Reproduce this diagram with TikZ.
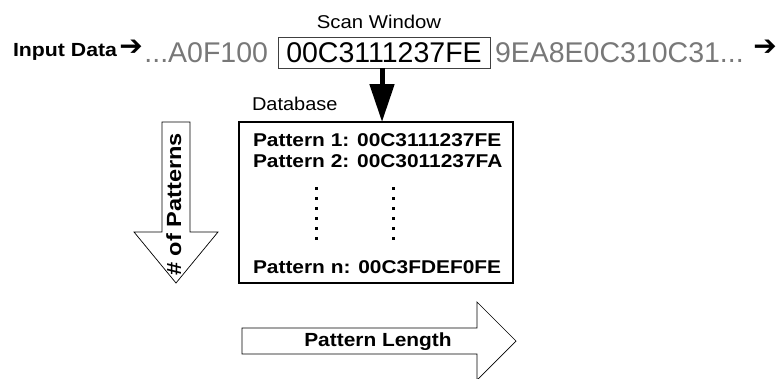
\documentclass[tikz,border=0pt]{standalone}
\usepackage{fontspec}
\setmainfont{Liberation Sans}
\newfontfamily\dejavu{DejaVu Sans}
\usetikzlibrary{arrows.meta}
\definecolor{seqgray}{RGB}{120,120,120}
\newcommand\hx[2]{\scalebox{#1}[1]{#2}}
\begin{document}
\begin{tikzpicture}[x=1pt,y=-1pt,
  txt/.style={inner sep=0pt, outer sep=0pt},
  seq/.style={txt, text=seqgray, font=\fontsize{28.5}{32}\selectfont},
  win/.style={draw=black!75, line width=0.8pt, inner sep=0pt, outer sep=0pt,
    minimum width=212pt, minimum height=31pt, font=\fontsize{28.5}{32}\selectfont},
  sym/.style={txt, font=\dejavu\bfseries\fontsize{28}{30}\selectfont},
  lbl/.style={txt, font=\fontsize{18.5}{22}\selectfont},
  pat/.style={txt, anchor=base west, font=\fontsize{18.5}{22}\selectfont\bfseries},
  hollow/.style={draw=black, line width=0.7pt, fill=white, line join=miter},
  dot/.style={fill=black}
]
\useasboundingbox (0,0) rectangle (778,378);

% top line
\node[txt, anchor=base west, font=\fontsize{19}{22}\selectfont\bfseries] (inp) at (13,56) {\hx{1.12}{Input Data}};
\node[sym] (inarr) at (131,48) {➔};
\node[win] (win) at (384,52.5) {00C3111237FE};
\node[seq, anchor=base east] (pre) at (268,62.5) {...A0F100};
\node[seq, anchor=base west] (post) at (495,62.5) {9EA8E0C310C31...};
\node[sym] (outarr) at (765,48) {➔};
\node[lbl, anchor=base] (scan) at (379,28) {\hx{1.1}{Scan Window}};

% database
\node[lbl, anchor=base west] (dblbl) at (252,110) {\hx{1.08}{Database}};
\node[draw=black, line width=1.8pt, inner sep=0pt, outer sep=0pt,
  minimum width=274pt, minimum height=161pt] (db) at (376,202.5) {};
\coordinate (ax) at (382,0);
\draw[line width=5pt, -{Triangle[width=24pt,length=38pt]}] (win.south -| ax) -- (db.north -| ax);

\node[pat] (p1) at (253,146) {\hx{1.13}{Pattern 1: 00C3111237FE}};
\node[pat] (p2) at (253,167.5) {\hx{1.13}{Pattern 2: 00C3011237FA}};
\node[pat] (pn) at (253,273) {\hx{1.13}{Pattern n: 00C3FDEF0FE}};
\foreach \yy in {188,198,208,218,228,238} {
  \fill[dot] (314.5,\yy-1.5) rectangle ++(3,3);
  \fill[dot] (391.5,\yy-1.5) rectangle ++(3,3);
}

% # of patterns arrow
\draw[hollow] (162,122) -- (190,122) -- (190,232) -- (218,232) -- (176,283)
  -- (134,232) -- (162,232) -- cycle;
\node[txt, rotate=90, anchor=base, font=\fontsize{20.5}{24}\selectfont\bfseries] (npat) at (181,204.5) {\hx{1.15}{\# of Patterns}};

% pattern length arrow
\draw[hollow] (242,328) -- (477,328) -- (477,302) -- (516,341) -- (477,380)
  -- (477,354) -- (242,354) -- cycle;
\node[txt, anchor=base, font=\fontsize{19}{22}\selectfont\bfseries] (plen) at (378,346.5) {\hx{1.1}{Pattern Length}};
\end{tikzpicture}
\end{document}
